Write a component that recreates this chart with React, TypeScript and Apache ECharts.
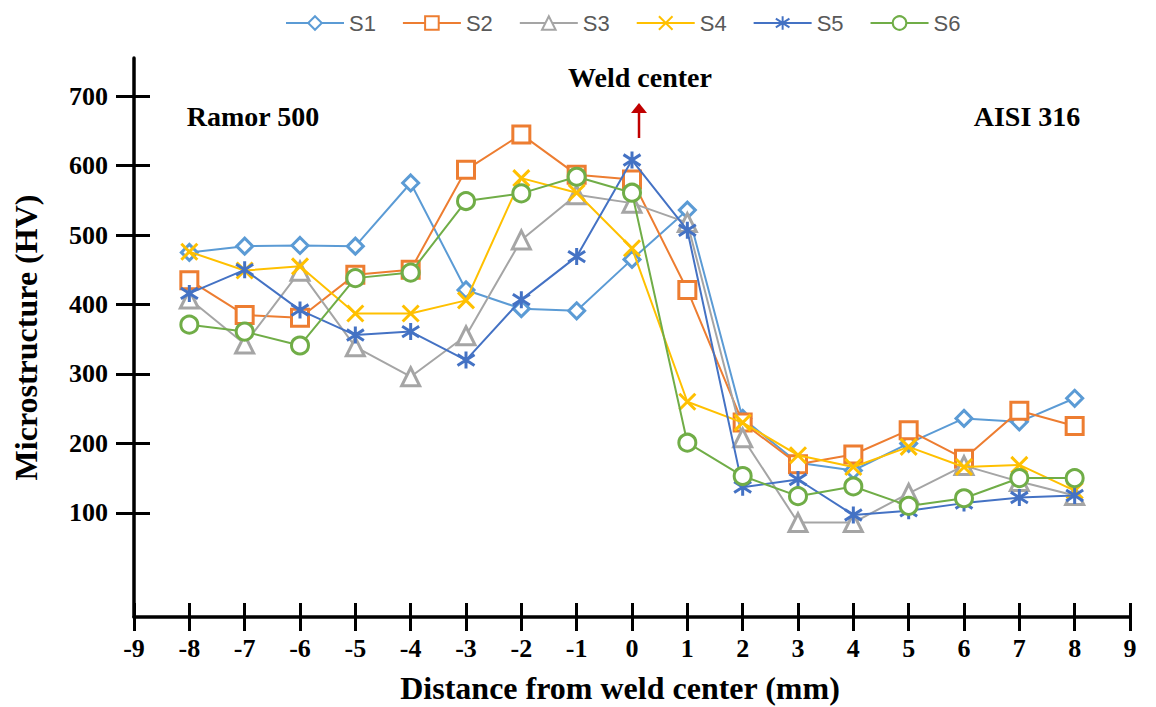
import React, { useEffect, useRef } from "react";
import * as echarts from "echarts";

const xValues = [-8, -7, -6, -5, -4, -3, -2, -1, 0, 1, 2, 3, 4, 5, 6, 7, 8];
const yTicks = [100, 200, 300, 400, 500, 600, 700];
const seriesNames = ["S1", "S2", "S3", "S4", "S5", "S6"];

const s1 = [475, 484, 485, 484, 575, 421, 394, 391, 465, 536, 236, 172, 161, 200, 236, 231, 265];
const s2 = [435, 385, 381, 443, 450, 594, 645, 587, 580, 421, 230, 170, 184, 219, 178, 247, 225];
const s3 = [408, 343, 448, 339, 296, 355, 493, 558, 546, 518, 208, 86, 86, 128, 168, 145, 125];
const s4 = [476, 449, 455, 387, 387, 406, 582, 561, 481, 260, 230, 183, 166, 195, 166, 169, 132];
const s5 = [416, 450, 392, 356, 361, 320, 407, 469, 608, 507, 137, 148, 97, 103, 114, 122, 125];
const s6 = [371, 361, 341, 438, 446, 549, 560, 584, 561, 201, 153, 124, 138, 110, 121, 150, 150];

const allValues = [s1, s2, s3, s4, s5, s6];
const colors = ["#5B9BD5", "#ED7D31", "#A5A5A5", "#FFC000", "#4472C4", "#70AD47"];
const symbols = [
  "diamond",
  "rect",
  "triangle",
  "path://M0,0L10,10M10,0L0,10",
  "path://M5,0L5,10M0.7,1.8L9.3,8.2M9.3,1.8L0.7,8.2",
  "circle",
];
const symbolSizes = [16, 17, 18, 16, 17, 17];

const SERIF = '"Liberation Serif", "Times New Roman", serif';

export default function App() {
  const ref = useRef<HTMLDivElement>(null);

  useEffect(() => {
    if (!ref.current) return;
    const chart = echarts.init(ref.current, undefined, { renderer: "svg" });

    const series = seriesNames.map((name, i) => ({
      name,
      type: "line",
      xAxisIndex: 0,
      yAxisIndex: 0,
      data: xValues.map((x, j) => [x, allValues[i][j]]),
      symbol: symbols[i],
      symbolSize: symbolSizes[i],
      showAllSymbol: true,
      lineStyle: { color: colors[i], width: 2 },
      itemStyle: { color: "#ffffff", borderColor: colors[i], borderWidth: 3 },
      emphasis: { disabled: true },
      z: 2 + i,
    }));

    const tickLabelStyle = {
      fontFamily: SERIF,
      fontWeight: "bold",
      fontSize: 26,
      color: "#000",
    };
    const nameStyle = {
      fontFamily: SERIF,
      fontWeight: "bold",
      fontSize: 32,
      color: "#000",
    };

    chart.setOption({
      animation: false,
      backgroundColor: "#ffffff",
      grid: {
        left: 134,
        right: 26,
        top: 58,
        bottom: 90,
        containLabel: false,
        outerBoundsMode: "none",
      },
      legend: {
        data: seriesNames,
        left: 280,
        top: 7,
        itemWidth: 58,
        itemHeight: 17,
        itemGap: 26,
        textStyle: {
          fontFamily: '"Liberation Sans", Arial, sans-serif',
          fontSize: 22,
          color: "#595959",
        },
      },
      xAxis: [
        {
          type: "value",
          min: -9,
          max: 9,
          interval: 1,
          position: "bottom",
          name: "Distance from weld center (mm)",
          nameLocation: "middle",
          nameGap: 55,
          nameTextStyle: { ...nameStyle, padding: [0, 24, 0, 0] },
          axisLine: { show: true, onZero: false, lineStyle: { color: "#000", width: 3.5 } },
          axisTick: { show: true, length: 14, lineStyle: { color: "#000", width: 3 } },
          axisLabel: { ...tickLabelStyle, margin: 18 },
          splitLine: { show: false },
        },
        {
          type: "value",
          min: -9,
          max: 9,
          interval: 1,
          position: "bottom",
          axisLine: { show: false, onZero: false },
          axisTick: { show: true, inside: true, length: 14, lineStyle: { color: "#000", width: 3 } },
          axisLabel: { show: false },
          splitLine: { show: false },
        },
      ],
      yAxis: [
        {
          type: "value",
          min: -50,
          max: 755,
          position: "left",
          name: "Microstructure (HV)",
          nameLocation: "middle",
          nameGap: 92,
          nameTextStyle: nameStyle,
          axisLine: { show: true, onZero: false, lineStyle: { color: "#000", width: 3.5 } },
          axisTick: {
            show: true,
            length: 18,
            customValues: yTicks,
            lineStyle: { color: "#000", width: 3 },
          },
          axisLabel: { ...tickLabelStyle, margin: 26, customValues: yTicks },
          splitLine: { show: false },
        },
        {
          type: "value",
          min: -50,
          max: 755,
          position: "left",
          axisLine: { show: false, onZero: false },
          axisTick: {
            show: true,
            inside: true,
            length: 16,
            customValues: yTicks,
            lineStyle: { color: "#000", width: 3 },
          },
          axisLabel: { show: false, customValues: yTicks },
          splitLine: { show: false },
        },
      ],
      graphic: [
        {
          type: "text",
          x: 640,
          y: 77,
          style: {
            text: "Weld center",
            fontFamily: SERIF,
            fontWeight: "bold",
            fontSize: 28,
            fill: "#000",
            align: "center",
            verticalAlign: "middle",
          },
        },
        {
          type: "text",
          x: 253,
          y: 116,
          style: {
            text: "Ramor 500",
            fontFamily: SERIF,
            fontWeight: "bold",
            fontSize: 28,
            fill: "#000",
            align: "center",
            verticalAlign: "middle",
          },
        },
        {
          type: "text",
          x: 1027,
          y: 116,
          style: {
            text: "AISI 316",
            fontFamily: SERIF,
            fontWeight: "bold",
            fontSize: 28,
            fill: "#000",
            align: "center",
            verticalAlign: "middle",
          },
        },
        {
          type: "line",
          shape: { x1: 639, y1: 138, x2: 639, y2: 111 },
          style: { stroke: "#C00000", lineWidth: 2.5 },
        },
        {
          type: "polygon",
          shape: { points: [[631, 113], [647, 113], [639, 103]] },
          style: { fill: "#C00000" },
        },
      ],
      series,
    });

    return () => chart.dispose();
  }, []);

  return (
    <div
      ref={ref}
      style={{ position: "fixed", left: 0, top: 0, width: 1156, height: 707 }}
    />
  );
}
